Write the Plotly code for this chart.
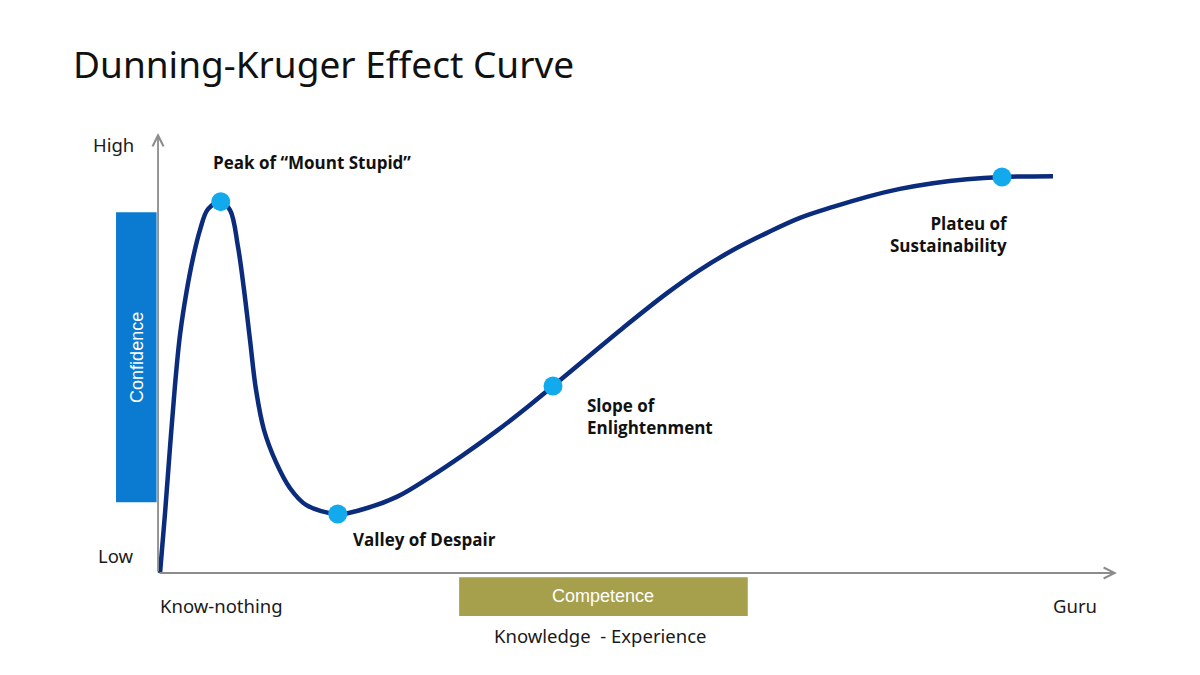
import plotly.graph_objects as go

# Curve (knowledge 0-100, confidence 0-100)
knowledge = [0.21, 0.73, 1.25, 1.77, 2.29, 2.97, 3.65, 4.38, 5.21, 6.54,
             7.51, 8.34, 8.97, 9.59, 10.22, 11.05, 12.30, 13.76, 15.43, 18.74,
             21.38, 24.89, 28.36, 31.80, 35.32, 38.79, 41.19, 45.05, 48.49, 53.08,
             56.52, 59.96, 63.50, 66.94, 70.39, 73.93, 77.37, 80.81, 84.36, 88.01, 93.33]
confidence = [0.0, 13.6, 28.6, 42.7, 54.1, 63.9, 71.6, 78.0, 82.7, 84.4,
              82.5, 74.1, 64.3, 53.0, 41.6, 32.5, 25.2, 19.3, 15.5, 13.4,
              14.5, 17.3, 21.8, 26.8, 32.3, 38.2, 42.5, 49.5, 55.7, 63.6,
              68.9, 73.4, 77.3, 80.7, 83.2, 85.5, 87.3, 88.6, 89.5, 90.0, 90.2]

# Highlighted stages
stage_names = ["Peak of “Mount Stupid”", "Valley of Despair", "Slope of<br>Enlightenment",
               "Plateu of<br>Sustainability"]
stage_x = [6.54, 18.74, 41.19, 88.01]
stage_y = [84.4, 13.4, 42.5, 90.0]

# Axis end labels
y_labels = ["Low", "High"]
x_labels = ["Know-nothing", "Guru"]

NAVY = "#0B2C7C"
DOT = "#12AAEC"
GRAY = "#8C8C8C"
BOLD = "Open Sans"
REG = "Noto Sans"

fig = go.Figure()
fig.add_trace(go.Scatter(x=knowledge, y=confidence, mode="lines",
                         line=dict(color=NAVY, width=4.5, shape="spline", smoothing=1.0),
                         hoverinfo="skip", showlegend=False))
fig.add_trace(go.Scatter(x=stage_x, y=stage_y, mode="markers",
                         marker=dict(color=DOT, size=19, line=dict(width=0)),
                         hoverinfo="skip", showlegend=False))

# Side boxes
fig.add_shape(type="rect", x0=-4.38, x1=-0.15, y0=16.1, y1=82.0,
              fillcolor="#0A7BD1", line=dict(width=0), layer="below")
fig.add_shape(type="rect", x0=31.4, x1=61.5, y0=-0.95, y1=-9.77,
              fillcolor="#A69F4C", line=dict(width=0), layer="below")

ann = []
# Axes with arrows
ann.append(dict(x=100, y=0, ax=0, ay=0, xref="x", yref="y", axref="x", ayref="y",
                text="", showarrow=True, arrowhead=5, arrowsize=1.2, arrowwidth=1.8,
                arrowcolor=GRAY, standoff=0, startstandoff=0))
ann.append(dict(x=0, y=100, ax=0, ay=0, xref="x", yref="y", axref="x", ayref="y",
                text="", showarrow=True, arrowhead=5, arrowsize=1.2, arrowwidth=1.8,
                arrowcolor=GRAY, standoff=0, startstandoff=0))

reg_font = dict(family=REG, size=18.5, color="#1a1a1a")
ann.append(dict(x=-2.3, y=3.9, text=y_labels[0], xanchor="right", yanchor="middle",
                showarrow=False, font=reg_font))
ann.append(dict(x=-2.3, y=97.3, text=y_labels[1], xanchor="right", yanchor="middle",
                showarrow=False, font=reg_font))
ann.append(dict(x=0, y=-7.3, text=x_labels[0], xanchor="left", yanchor="middle",
                showarrow=False, font=reg_font))
ann.append(dict(x=98.1, y=-7.3, text=x_labels[1], xanchor="right", yanchor="middle",
                showarrow=False, font=reg_font))
ann.append(dict(x=46.1, y=-14.3, text="Knowledge  - Experience", xanchor="center",
                yanchor="middle", showarrow=False, font=reg_font))

box_font = dict(family="Liberation Sans, Arial", size=18, color="white")
ann.append(dict(x=46.4, y=-5.2, text="Competence", xanchor="center", yanchor="middle",
                showarrow=False, font=box_font))
ann.append(dict(x=-2.2, y=49.1, text="Confidence", textangle=-90, xanchor="center",
                yanchor="middle", showarrow=False, font=box_font))

bold_font = dict(family=BOLD, size=17, color="#111111", weight="bold")
stage_pos = [(5.53, 93.4, "left", "left"), (20.1, 7.7, "left", "left"),
             (44.5, 35.5, "left", "left"), (88.8, 77.0, "right", "right")]
for name, (px, py, xa, al) in zip(stage_names, stage_pos):
    ann.append(dict(x=px, y=py, text=name, xanchor=xa, yanchor="middle", align=al,
                    showarrow=False, font=bold_font))

fig.update_layout(
    width=1200, height=675,
    margin=dict(l=0, r=0, t=0, b=0),
    paper_bgcolor="white", plot_bgcolor="white",
    xaxis=dict(range=[-16.48, 108.66], visible=False, fixedrange=True),
    yaxis=dict(range=[-23.18, 130.23], visible=False, fixedrange=True),
    title=dict(text="Dunning-Kruger Effect Curve", x=73 / 1200, xanchor="left",
               y=1 - 65 / 675, yanchor="middle", xref="container", yref="container",
               font=dict(family=REG, size=37, color="#111111")),
    annotations=ann,
    showlegend=False,
)

fig.write_html("out.html", config={"displayModeBar": False},
               post_script="document.body.style.margin='0';")
